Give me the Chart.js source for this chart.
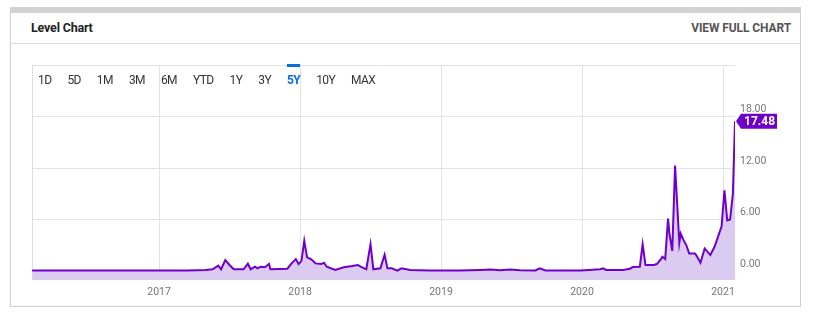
<!DOCTYPE html>
<html>
<head>
<meta charset="utf-8">
<script src="https://cdn.jsdelivr.net/npm/chart.js@4/dist/chart.umd.min.js"></script>
<style>
  html, body { margin: 0; padding: 0; background: #fff; width: 814px; height: 319px; overflow: hidden; font-family: Roboto, "Liberation Sans", sans-serif; }
  .card { position: absolute; left: 10px; top: 7px; width: 791px; height: 300px; box-sizing: border-box; border: 1px solid #cfcfcf; border-top: 6px solid #d2d2d2; }
  .title { position: absolute; left: 31px; top: 20px; font-size: 12.5px; font-weight: 700; color: #222; letter-spacing: -0.2px; }
  .full { position: absolute; right: 23px; top: 21px; font-size: 12px; font-weight: 700; color: #555; letter-spacing: -0.1px; }
  .sep { position: absolute; left: 11px; top: 43px; width: 789px; height: 1px; background: #dcdcdc; }
  .wrap { position: absolute; left: 32px; top: 54px; width: 769px; height: 246px; }
  .tabs { position: absolute; left: 30px; top: 64px; height: 32px; display: flex; }
  .tab { position: relative; padding: 0 8px; font-size: 12px; color: #333; line-height: 32px; letter-spacing: -0.6px; }
  .tab.on { color: #0a6fd6; font-weight: 700; }
  .tab.on::before { content: ""; position: absolute; left: 8px; right: 8px; top: 0; height: 3px; background: #0a6fd6; }
</style>
</head>
<body>
<div class="card"></div>
<div class="title">Level Chart</div>
<div class="full">VIEW FULL CHART</div>
<div class="sep"></div>
<div class="wrap"><canvas id="c"></canvas></div>
<div class="tabs" id="tabs"></div>
<script>
const tabLabels = ["1D","5D","1M","3M","6M","YTD","1Y","3Y","5Y","10Y","MAX"];
const activeTab = "5Y";

const years = [2016.10, 2017.20, 2017.33, 2017.38, 2017.42, 2017.44, 2017.47, 2017.50, 2017.53, 2017.60,
  2017.63, 2017.65, 2017.68, 2017.70, 2017.72, 2017.75, 2017.78, 2017.79, 2017.91, 2017.94,
  2017.97, 2017.99, 2018.01, 2018.03, 2018.05, 2018.08, 2018.11, 2018.15, 2018.17, 2018.19,
  2018.25, 2018.31, 2018.37, 2018.41, 2018.43, 2018.47, 2018.50, 2018.52, 2018.57, 2018.60,
  2018.62, 2018.65, 2018.69, 2018.72, 2018.78, 2018.92, 2019.13, 2019.28, 2019.35, 2019.42,
  2019.49, 2019.56, 2019.67, 2019.70, 2019.74, 2019.99, 2020.13, 2020.15, 2020.17, 2020.29,
  2020.34, 2020.36, 2020.41, 2020.43, 2020.45, 2020.51, 2020.53, 2020.56, 2020.57, 2020.59,
  2020.61, 2020.62, 2020.64, 2020.66, 2020.69, 2020.70, 2020.72, 2020.74, 2020.76, 2020.80,
  2020.81, 2020.84, 2020.87, 2020.91, 2020.94, 2020.99, 2021.01, 2021.03, 2021.05, 2021.07,
  2021.085];
const levels = [0.05, 0.05, 0.12, 0.20, 0.62, 0.20, 1.28, 0.70, 0.20, 0.20,
  0.85, 0.20, 0.50, 0.31, 0.50, 0.43, 0.81, 0.20, 0.27, 0.89,
  1.39, 0.81, 1.19, 3.52, 1.59, 1.36, 0.89, 0.81, 0.96, 0.50,
  0.12, 0.43, 0.58, 0.70, 0.50, 0.20, 3.13, 0.20, 0.31, 1.89,
  0.31, 0.31, 0.05, 0.31, 0.12, 0.05, 0.06, 0.12, 0.17, 0.08,
  0.17, 0.08, 0.06, 0.31, 0.06, 0.06, 0.20, 0.31, 0.12, 0.12,
  0.27, 0.46, 0.50, 3.13, 0.70, 0.70, 0.81, 1.39, 1.66, 1.39,
  6.11, 4.37, 2.35, 12.30, 3.28, 4.37, 3.60, 3.00, 2.05, 2.05,
  1.86, 0.96, 2.63, 1.86, 2.82, 5.22, 9.40, 5.90, 6.00, 9.00,
  17.48];
const yTicks = [0, 6, 12, 18, 24];
const xTicks = [2017, 2018, 2019, 2020, 2021];
const lastValue = "17.48";

const tabsEl = document.getElementById('tabs');
tabLabels.forEach(t => {
  const s = document.createElement('span');
  s.className = 'tab' + (t === activeTab ? ' on' : '');
  s.textContent = t;
  tabsEl.appendChild(s);
});

const PURPLE = '#6f00cc';

const sidePlugin = {
  id: 'side',
  beforeDatasetsDraw(chart) {
    const {ctx, chartArea} = chart;
    ctx.save();
    ctx.strokeStyle = '#dedede';
    ctx.lineWidth = 1;
    ctx.beginPath();
    ctx.moveTo(Math.round(chartArea.left) + 0.5, chartArea.top);
    ctx.lineTo(Math.round(chartArea.left) + 0.5, chartArea.bottom);
    ctx.stroke();
    ctx.restore();
  },
  afterDraw(chart) {
    const {ctx, chartArea} = chart;
    const y = chart.scales.y.getPixelForValue(levels[levels.length - 1]);
    const x0 = chartArea.right + 1;
    ctx.save();
    ctx.fillStyle = PURPLE;
    ctx.beginPath();
    ctx.moveTo(x0, y);
    ctx.lineTo(x0 + 5, y - 7.5);
    ctx.lineTo(x0 + 41, y - 7.5);
    ctx.lineTo(x0 + 41, y + 7.5);
    ctx.lineTo(x0 + 5, y + 7.5);
    ctx.closePath();
    ctx.fill();
    ctx.fillStyle = '#fff';
    ctx.font = 'bold 12px Roboto';
    ctx.textAlign = 'left';
    ctx.textBaseline = 'middle';
    ctx.fillText(lastValue, x0 + 8, y + 0.5);
    ctx.restore();
  }
};

new Chart(document.getElementById('c'), {
  type: 'line',
  data: {
    datasets: [{
      data: years.map((x, i) => ({x, y: levels[i]})),
      borderColor: PURPLE,
      borderWidth: 2,
      backgroundColor: '#dccbf1',
      fill: 'start',
      pointRadius: 0,
      tension: 0
    }]
  },
  options: {
    responsive: true,
    maintainAspectRatio: false,
    animation: false,
    layout: { padding: 0 },
    plugins: { legend: { display: false }, tooltip: { enabled: false } },
    scales: {
      x: {
        type: 'linear',
        min: 2016.099,
        max: 2021.085,
        afterBuildTicks: s => { s.ticks = xTicks.map(v => ({value: v})); },
        afterFit: s => { s.height = 20; },
        grid: { color: '#e3e3e3', drawTicks: false },
        border: { display: false },
        ticks: { color: '#777', font: { family: 'Roboto', size: 10.5 }, padding: 6, maxRotation: 0, callback: v => String(v) }
      },
      y: {
        position: 'right',
        min: -1.05,
        max: 24,
        afterBuildTicks: s => { s.ticks = yTicks.map(v => ({value: v})); },
        afterFit: s => { s.width = 66; },
        grid: { color: '#e3e3e3', drawTicks: false },
        border: { display: false },
        ticks: { color: '#777', font: { family: 'Roboto', size: 10.5 }, padding: 5, labelOffset: -7,
          callback: v => v === 24 ? '' : v.toFixed(2) }
      }
    }
  },
  plugins: [sidePlugin]
});
</script>
</body>
</html>
